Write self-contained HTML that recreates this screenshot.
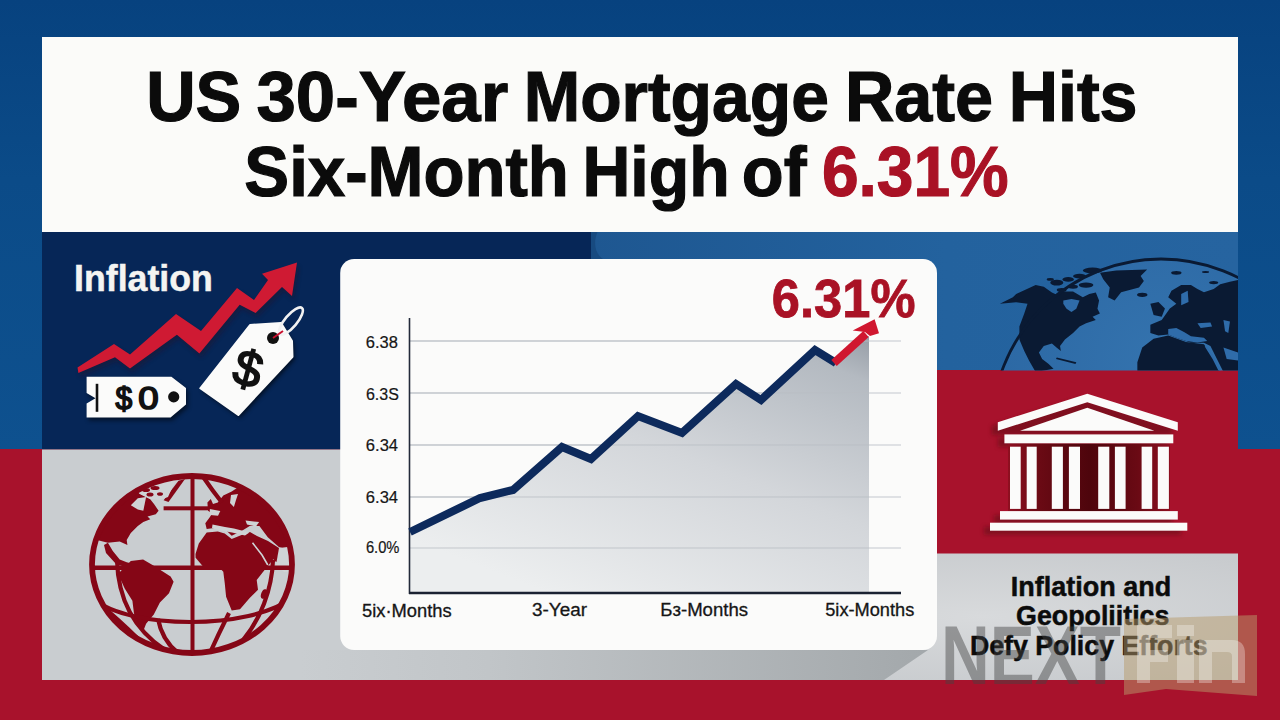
<!DOCTYPE html>
<html><head><meta charset="utf-8">
<style>
*{margin:0;padding:0;box-sizing:border-box}
html,body{width:1280px;height:720px;overflow:hidden}
body{position:relative;background:#a8122c;font-family:"Liberation Sans",sans-serif}
svg{position:absolute;left:0;top:0}
text{font-family:"Liberation Sans",sans-serif}
</style></head><body>
<svg width="1280" height="720" viewBox="0 0 1280 720">
<defs>
<linearGradient id="gBlue" x1="0" y1="0" x2="0" y2="1">
<stop offset="0" stop-color="#07427f"/><stop offset="0.4" stop-color="#0b4b88"/><stop offset="1" stop-color="#0e518f"/>
</linearGradient>
<linearGradient id="gFill" x1="1" y1="0" x2="0.3" y2="1">
<stop offset="0" stop-color="#969da6"/><stop offset="0.12" stop-color="#b4bac1"/><stop offset="0.5" stop-color="#d3d6da"/><stop offset="1" stop-color="#eceeef"/>
</linearGradient>
<linearGradient id="gShadow" x1="300" y1="0" x2="928" y2="0" gradientUnits="userSpaceOnUse">
<stop offset="0" stop-color="#c9cdd0"/><stop offset="0.3" stop-color="#c1c5c8"/><stop offset="1" stop-color="#a3a8ab"/>
</linearGradient>
<radialGradient id="gGrayR" cx="0.6" cy="0.5" r="0.6"><stop offset="0" stop-color="#d8dadc"/><stop offset="1" stop-color="#c8cbce"/></radialGradient>
<linearGradient id="gLB" x1="591" y1="0" x2="1238" y2="0" gradientUnits="userSpaceOnUse"><stop offset="0" stop-color="#1e5791"/><stop offset="0.55" stop-color="#23629e"/><stop offset="1" stop-color="#2664a0"/></linearGradient>
<filter id="blur2"><feGaussianBlur stdDeviation="2"/></filter>
</defs>
<!-- outer background -->
<rect x="0" y="0" width="1280" height="449.6" fill="url(#gBlue)"/>
<rect x="0" y="449" width="1280" height="271" fill="#a8122c"/>
<!-- title panel -->
<rect x="42" y="37" width="1196" height="195" fill="#fbfbf9"/>
<!-- navy panel -->
<rect x="42" y="232" width="600" height="217.5" fill="#062657"/>
<!-- light blue panel -->
<rect x="591" y="232" width="647" height="138.5" fill="url(#gLB)"/>
<path d="M591,232 L597.5,232 C593,242 595,254 603,259 L591,259 Z" fill="#174a80"/>
<!-- red panel right -->
<rect x="600" y="370" width="638" height="183" fill="#a8122c"/>
<!-- gray panels -->
<rect x="42" y="449.5" width="660" height="230.5" fill="#c9cdd0"/>
<rect x="600" y="553.5" width="638" height="126.5" fill="url(#gGrayR)"/>
<!-- card shadow -->
<polygon points="300,650 928,650 884,680 300,680" fill="url(#gShadow)"/>
<!-- card -->
<rect x="340.2" y="259" width="596.8" height="391" rx="14" fill="#fbfbfa"/>

<!-- title -->
<g font-size="71" font-weight="700" fill="#0b0b0b" stroke="#0b0b0b" stroke-width="1.2">
<text x="146.14" y="120.5" textLength="95.16" lengthAdjust="spacingAndGlyphs">US</text>
<text x="256.5" y="120.5" textLength="251.67" lengthAdjust="spacingAndGlyphs">30-Year</text>
<text x="523.68" y="120.5" textLength="305.25" lengthAdjust="spacingAndGlyphs">Mortgage</text>
<text x="844.9" y="120.5" textLength="148.19" lengthAdjust="spacingAndGlyphs">Rate</text>
<text x="1008.66" y="120.5" textLength="128.9" lengthAdjust="spacingAndGlyphs">Hits</text>
<text x="244.36" y="196" textLength="324.53" lengthAdjust="spacingAndGlyphs">Six-Month</text>
<text x="582.52" y="196" textLength="147.23" lengthAdjust="spacingAndGlyphs">High</text>
<text x="741.82" y="196" textLength="64.73" lengthAdjust="spacingAndGlyphs">of</text>
</g>
<text x="821.89" y="196" font-size="71" font-weight="700" fill="#a91225" stroke="#a91225" stroke-width="1.2" textLength="186.84" lengthAdjust="spacingAndGlyphs">6.31%</text>

<!-- Inflation label -->
<text x="74.07" y="290.5" font-size="37" font-weight="700" fill="#f4f4f2" stroke="#f4f4f2" stroke-width="0.5" textLength="138.74" lengthAdjust="spacingAndGlyphs">Inflation</text>

<!-- red zigzag arrow -->
<polygon points="77.5,367.5 114,344 130,354.4 176,314 201,331 237,288 254,300 268,280 262,273.75 297,262.5 292,296 282,287 255.6,313 239.7,304.7 199.4,353.4 176.9,334.7 130,368.4 115,357.2 78.4,373" fill="#2a0a1a" opacity="0.35" transform="translate(2,4)" filter="url(#blur2)"/>
<polygon points="77.5,367.5 114,344 130,354.4 176,314 201,331 237,288 254,300 268,280 262,273.75 297,262.5 292,296 282,287 255.6,313 239.7,304.7 199.4,353.4 176.9,334.7 130,368.4 115,357.2 78.4,373" fill="#cf1a33"/>

<!-- $0 tag -->
<polygon points="86.6,376.7 171.4,376.7 186,388 186,404.4 170.5,417.5 86.6,417.5 86.6,403.4 95.5,398.3 86.6,393" fill="#000" opacity="0.5" transform="translate(2,3)" filter="url(#blur2)"/>
<polygon points="86.6,376.7 171.4,376.7 186,388 186,404.4 170.5,417.5 86.6,417.5 86.6,403.4 95.5,398.3 86.6,393" fill="#fbfbfa"/>
<rect x="95.7" y="383.8" width="2.6" height="28" fill="#111"/>
<circle cx="173.7" cy="396.9" r="5.6" fill="#111"/>
<g font-size="32" font-weight="400" fill="#111" stroke="#111" stroke-width="1.7"><text x="115.6" y="408.5" textLength="16.71" lengthAdjust="spacingAndGlyphs">$</text><text x="138.36" y="408.5" textLength="20.36" lengthAdjust="spacingAndGlyphs">0</text></g>

<!-- $ tag rotated -->
<g>
<polygon points="200.3,388.3 250,325 281,323 292,341 292.5,356.7 238.3,415" fill="#000" opacity="0.6" transform="translate(2,3)" filter="url(#blur2)"/>
<polygon points="200.3,388.3 250,325 281,323 292,341 292.5,356.7 238.3,415" fill="#fbfbfa" stroke="#fbfbfa" stroke-width="2" stroke-linejoin="round"/>
<circle cx="273" cy="338" r="6" fill="#111"/>
<ellipse cx="291" cy="321" rx="17" ry="6" transform="rotate(-50 291 321)" fill="none" stroke="#f2f2f2" stroke-width="2.6"/>
<path d="M273,338 L283,331" stroke="#c8102e" stroke-width="2"/>
<text x="0" y="17" font-size="50" font-weight="400" fill="#111" stroke="#111" stroke-width="1.8" text-anchor="middle" transform="translate(248,369) rotate(15)">$</text>
</g>

<!-- chart gridlines -->
<g stroke="#c3c7cd" stroke-width="1.1">
<line x1="410" y1="341" x2="901" y2="341"/>
<line x1="410" y1="393" x2="901" y2="393"/>
<line x1="410" y1="445" x2="901" y2="445"/>
<line x1="410" y1="497" x2="901" y2="497"/>
<line x1="410" y1="548" x2="901" y2="548"/>
</g>
<!-- fill -->
<polygon points="410,532 480,498 513,490 562,447 591,459 638,416 682,433 736,384 761,400 815,350 833,362 869,336 869,593 410,593" fill="url(#gFill)"/>
<g stroke="#b8bdc3" stroke-width="1" opacity="0.8">
<line x1="410" y1="341" x2="869" y2="341"/>
<line x1="410" y1="393" x2="869" y2="393"/>
<line x1="410" y1="445" x2="869" y2="445"/>
<line x1="410" y1="497" x2="869" y2="497"/>
<line x1="410" y1="548" x2="869" y2="548"/>
</g>
<!-- axes -->
<line x1="409.5" y1="318" x2="409.5" y2="594" stroke="#232a3a" stroke-width="1.6"/>
<line x1="409" y1="593" x2="901" y2="593" stroke="#1b2232" stroke-width="2.5"/>
<!-- line -->
<polyline points="410,532 480,498 513,490 562,447 591,459 638,416 682,433 736,384 761,400 815,350 836,363" fill="none" stroke="#0d2a5c" stroke-width="8" stroke-linejoin="miter"/>
<!-- red arrow -->
<line x1="834" y1="363" x2="866" y2="334" stroke="#d0172f" stroke-width="8"/>
<polygon points="874.6,319.2 852.7,330.4 865,332 870,336 879,333.3" fill="#d0172f"/>

<!-- y labels -->
<g font-size="16" fill="#161616" stroke="#161616" stroke-width="0.2">
<text x="365.77" y="347.8" textLength="32.07" lengthAdjust="spacingAndGlyphs">6.38</text>
<text x="365.9" y="399.9" textLength="32.92" lengthAdjust="spacingAndGlyphs">6.3S</text>
<text x="365.87" y="451.3" textLength="32.18" lengthAdjust="spacingAndGlyphs">6.34</text>
<text x="365.87" y="502.7" textLength="32.18" lengthAdjust="spacingAndGlyphs">6.34</text>
<text x="365.88" y="553.2" textLength="33.55" lengthAdjust="spacingAndGlyphs">6.0%</text>
</g>
<!-- x labels -->
<g font-size="18" fill="#161616" stroke="#161616" stroke-width="0.3">
<text x="361.98" y="616.6" textLength="89.65" lengthAdjust="spacingAndGlyphs">5ix·Months</text>
<text x="532.05" y="616.25" textLength="54.94" lengthAdjust="spacingAndGlyphs">3-Year</text>
<text x="660.22" y="616.1" textLength="87.88" lengthAdjust="spacingAndGlyphs">Бз-Months</text>
<text x="825.24" y="616.4" textLength="88.99" lengthAdjust="spacingAndGlyphs">5ix-Months</text>
</g>
<!-- red 6.31% -->
<text x="771.87" y="317.25" font-size="54" font-weight="700" fill="#a91225" stroke="#a91225" stroke-width="0.8" textLength="143.58" lengthAdjust="spacingAndGlyphs">6.31%</text>


<!-- left red globe -->
<defs><radialGradient id="gGlobeIn" cx="0.5" cy="0.45" r="0.6"><stop offset="0" stop-color="#e2e4e6"/><stop offset="1" stop-color="#d3d6d9"/></radialGradient>
<clipPath id="cg1"><ellipse cx="192" cy="564.5" rx="100" ry="88"/></clipPath></defs>

<g clip-path="url(#cg1)">
<g fill="#850616">
<polygon points="90,552 92,530 99,512 110,499 122,490 133,489 140,494 146,497 150,499 154,504 158.6,510.8 155.8,514.3 147.5,516.4 150.3,519.2 143.3,521.9 137.8,526.1 130.8,533 126.7,540 127.4,544.9 119.7,541.4 107.9,542.8 97,540 90,545"/>
<polygon points="107.9,542.8 112.8,551 119.7,559.4 126.7,562.2 137.8,565 128,568 116,564 106,553 104,545"/>
<polygon points="163.6,500.2 178.5,480.7 185,479 168.5,502"/>
<polygon points="120.1,571.8 130.8,561.1 143.1,559.6 153.8,565.7 170.6,576.4 173.6,581.7 169,593.2 159.9,602.4 153.8,614.6 146.1,623.8 143.1,631.4 149.2,636 144.6,635.2 138.5,626.8 133.9,613.1 132.4,600.8 124.7,588.6 118.6,574.9"/>
<polygon points="207.4,502.5 210.8,499 213,503.9 217.8,502.5 223.3,495.6 231.7,491.4 240,486 262,491 278,502 290,518 296,535 296,549 286,549 278.9,546.9 267.8,537.2 259.4,526.1 249.7,526.1 242.8,530.3 231.7,535.8 226.1,530.3 217.8,527.5 206.7,528.9 205.3,523.3 209.4,517.8 212.2,513.6 208,510.8"/>
<polygon points="195.5,554 198.8,543.6 206.7,532.5 217.8,531.5 224.7,533.5 231.7,539 242.8,534.5 250,532 257,536 268,541 279,548 287,553 284,560 276,562 273.3,559.2 267.8,566.1 262.2,573 256.7,580 258,589.7 249.7,598 240,609.2 231.7,610.6 226.1,596.7 224.7,582.8 223.3,571.7 217.8,566.1 203.9,567.5 195.6,557.8"/>
<ellipse cx="264" cy="594" rx="2.8" ry="5" transform="rotate(20 264 594)"/>
</g>
<g fill="#cfd3d5">
<polygon points="130.8,505.3 137.8,498.3 146.1,497 143.3,510.8 137.8,509.4"/>
<polygon points="134,488 150,484 177,477 168,497 160,500 150,499 140,494"/>
<polygon points="279,548 296,546 296,572 284,572 276,565"/>
<polygon points="231,495 238,494 236,500 233.9,507 230,503"/>
<polygon points="209.6,508.9 220.3,511 218,515.7 210,515"/>
<polygon points="212.5,524.4 225,527 233.9,528.5 249.4,532.5 245,535.5 232,532.5 220,530.5 212,528"/>
<polygon points="245.5,520.5 259.1,522 256,526.4 247,524.5"/>
</g>
<g fill="#850616"><ellipse cx="146" cy="490" rx="4" ry="2"/><ellipse cx="155" cy="488" rx="4.5" ry="2"/><ellipse cx="150" cy="494.5" rx="3.5" ry="2"/><ellipse cx="160" cy="494" rx="3" ry="1.8"/></g>
<path d="M252.5,542.8 L262,555 L267.8,565" fill="none" stroke="#cfd3d5" stroke-width="1.6"/>
<g fill="none" stroke="#850616" stroke-width="4.2">
<path d="M92,598 C130,630 250,630 292,598"/>
<path d="M117,560 C118,600 135,630 165,650"/>
<path d="M108,611 Q130,630 146,647"/>
<path d="M158,619 Q162,640 178,653"/>
<path d="M273,560 C272,590 260,620 243,640"/>
<path d="M229,613 Q218,635 209,655"/>
<path d="M203.9,478 Q212,490 221.9,502.5"/>
</g>
<g fill="#850616">
<rect x="190.5" y="470" width="4" height="190"/>
<rect x="163.6" y="506.3" width="46" height="4"/>
<rect x="90" y="565.5" width="205" height="4.5"/>
</g>
</g>
<ellipse cx="192" cy="564.5" rx="100" ry="88.5" fill="none" stroke="#850616" stroke-width="5.8"/>

<!-- right blue globe -->
<defs><clipPath id="cg2"><rect x="591" y="232" width="647" height="138.5"/></clipPath>
<radialGradient id="gOcean" cx="0.5" cy="0.3" r="0.6"><stop offset="0" stop-color="#3473ae"/><stop offset="1" stop-color="#2a66a2"/></radialGradient></defs>
<g clip-path="url(#cg2)">
<circle cx="1161" cy="428" r="169" fill="url(#gOcean)"/>
<g transform="translate(995,255) scale(0.1626)" fill="#0a1a33">
<path d="M30,300 L110,260 L130,240 L250,185 L300,195 L350,230 L380,245 L420,225 L480,225 L540,260 L580,240 L620,230 L640,280 L630,330 L645,360 L600,380 L620,400 L560,420 L520,440 L480,480 L430,520 L400,560 L405,590 L380,570 L350,545 L300,560 L270,600 L290,640 L330,670 L360,700 L250,720 L210,650 L180,590 L150,520 L150,440 L180,360 L200,300 L130,290 Z"/>
<ellipse cx="380" cy="170" rx="40" ry="18"/><ellipse cx="450" cy="150" rx="35" ry="14"/><ellipse cx="520" cy="130" rx="40" ry="14"/><ellipse cx="410" cy="215" rx="30" ry="12"/><ellipse cx="480" cy="195" rx="30" ry="12"/><ellipse cx="560" cy="185" rx="45" ry="16"/><ellipse cx="600" cy="95" rx="60" ry="18"/><ellipse cx="340" cy="150" rx="22" ry="8"/>
<path d="M380,630 L500,660 L495,670 L375,640 Z"/>
</g>
<g transform="translate(995,255) scale(0.1626)" fill="#2f6caa">
<path d="M420,280 L470,270 L520,280 L500,330 L470,350 L440,330 L420,300 Z"/>
</g>
<g transform="translate(1100,255) scale(0.16242)" fill="#0a1a33">
<path d="M0,110 L100,95 L290,90 L250,130 L270,160 L240,200 L130,230 L90,280 L50,260 L60,200 L20,150 Z"/>
<ellipse cx="260" cy="245" rx="32" ry="13"/><ellipse cx="470" cy="110" rx="32" ry="12"/><ellipse cx="650" cy="105" rx="22" ry="6"/><ellipse cx="700" cy="170" rx="28" ry="10"/>
<path d="M310,300 L360,290 L400,330 L380,380 L330,370 Z"/>
<path d="M420,260 L440,220 L500,185 L560,185 L600,210 L640,230 L700,210 L740,180 L800,165 L870,150 L870,720 L760,720 L720,640 L680,560 L640,540 L560,540 L470,510 L420,490 L360,495 L310,480 L310,430 L380,400 L430,330 L470,300 Z"/>
<path d="M230,660 L260,570 L330,515 L420,495 L530,535 L640,550 L700,640 L740,720 L230,720 Z"/>
</g>
<g transform="translate(1100,255) scale(0.16242)" fill="#2f6caa">
<path d="M500,240 L540,220 L545,290 L500,310 Z"/>
<path d="M600,420 L680,415 L690,440 L620,450 Z"/>
<path d="M760,400 L800,410 L790,480 L770,470 Z"/>
<path d="M420,455 L470,450 L520,475 L560,500 L640,510 L660,530 L600,538 L530,530 L470,510 L420,490 Z"/>
<path d="M760,570 L850,600 L850,650 L780,640 Z"/>
</g>
<path d="M1100,255 m0,0" />
<g transform="translate(1100,255) scale(0.16242)" fill="none" stroke="#2f6caa" stroke-width="12">
<path d="M650,560 L700,640 L740,720"/>
</g>
<circle cx="1161" cy="428" r="169" fill="none" stroke="#0a1a33" stroke-width="2.8"/>
</g>

<!-- building -->
<g fill="#5e0a14" opacity="0.55" transform="translate(-6,4)" filter="url(#blur2)">
<polygon points="1087,394 1178,422 1178,431 997.8,431 997.8,422"/>
<rect x="1004" y="434" width="169" height="9"/>
<rect x="1000" y="511" width="178" height="8.5"/>
<rect x="990" y="522.7" width="197" height="8"/>
</g>
<defs><linearGradient id="gBld" x1="0" y1="0" x2="1" y2="0">
<stop offset="0" stop-color="#8e0f20"/><stop offset="0.2" stop-color="#6a0a14"/><stop offset="0.5" stop-color="#4e050c"/><stop offset="0.8" stop-color="#6a0a14"/><stop offset="1" stop-color="#8e0f20"/></linearGradient></defs>
<rect x="1008" y="444" width="162" height="67" fill="url(#gBld)"/>
<g fill="#fbfbfa">
<polygon points="1087.3,393.8 1177.8,422.2 1177.8,430.7 1087.3,402.2 997.8,430.7 997.8,422.2"/>
<polygon points="1087.3,407.8 1154.4,430.7 1020,430.7"/>
<rect x="1004.4" y="434.4" width="168.9" height="8.9"/>
<rect x="1010" y="446.7" width="10.7" height="62.2"/>
<rect x="1026.7" y="446.7" width="10" height="62.2"/>
<rect x="1051.8" y="446.7" width="11.1" height="62.2"/>
<rect x="1068.9" y="446.7" width="11.1" height="62.2"/>
<rect x="1098.2" y="446.7" width="11.1" height="62.2"/>
<rect x="1114.9" y="446.7" width="10.7" height="62.2"/>
<rect x="1141.6" y="446.7" width="10.6" height="62.2"/>
<rect x="1157.8" y="446.7" width="11.1" height="62.2"/>
<rect x="1000" y="511.1" width="177.8" height="8.5"/>
<rect x="990" y="522.7" width="197.3" height="8"/>
</g>

<!-- bottom-right text -->
<g font-size="28" font-weight="700" fill="#0b0b0b" stroke="#0b0b0b" stroke-width="0.5">
<text x="1010.87" y="595.6" textLength="160.41" lengthAdjust="spacingAndGlyphs">Inflation and</text>
<text x="1016.04" y="625.4" textLength="153.4" lengthAdjust="spacingAndGlyphs">Geopoliitics</text>
<text x="969.89" y="655.3" textLength="237.72" lengthAdjust="spacingAndGlyphs">Defy Policy Efforts</text>
</g>

<!-- watermark -->
<text x="941" y="683.5" font-size="84" font-weight="700" fill="#444" opacity="0.45" textLength="180" lengthAdjust="spacingAndGlyphs">NEXT</text>
<polygon points="1124,619 1257,615 1257,696 1166,689 1124,695" fill="#b89c6c" opacity="0.5"/>
<g fill="#ffffff" opacity="0.3">
<path d="M1137,625 L1172,625 L1172,638 L1150,638 L1150,650 L1168,650 L1168,662 L1150,662 L1150,683 L1137,683 Z"/>
<rect x="1177" y="640" width="17" height="43"/>
<rect x="1177" y="625" width="17" height="11"/>
<path d="M1199,640 L1232,640 Q1245,640 1245,654 L1245,683 L1232,683 L1232,656 Q1232,652 1227,652 L1212,652 L1212,683 L1199,683 Z"/>
</g>
</svg>
</body></html>
